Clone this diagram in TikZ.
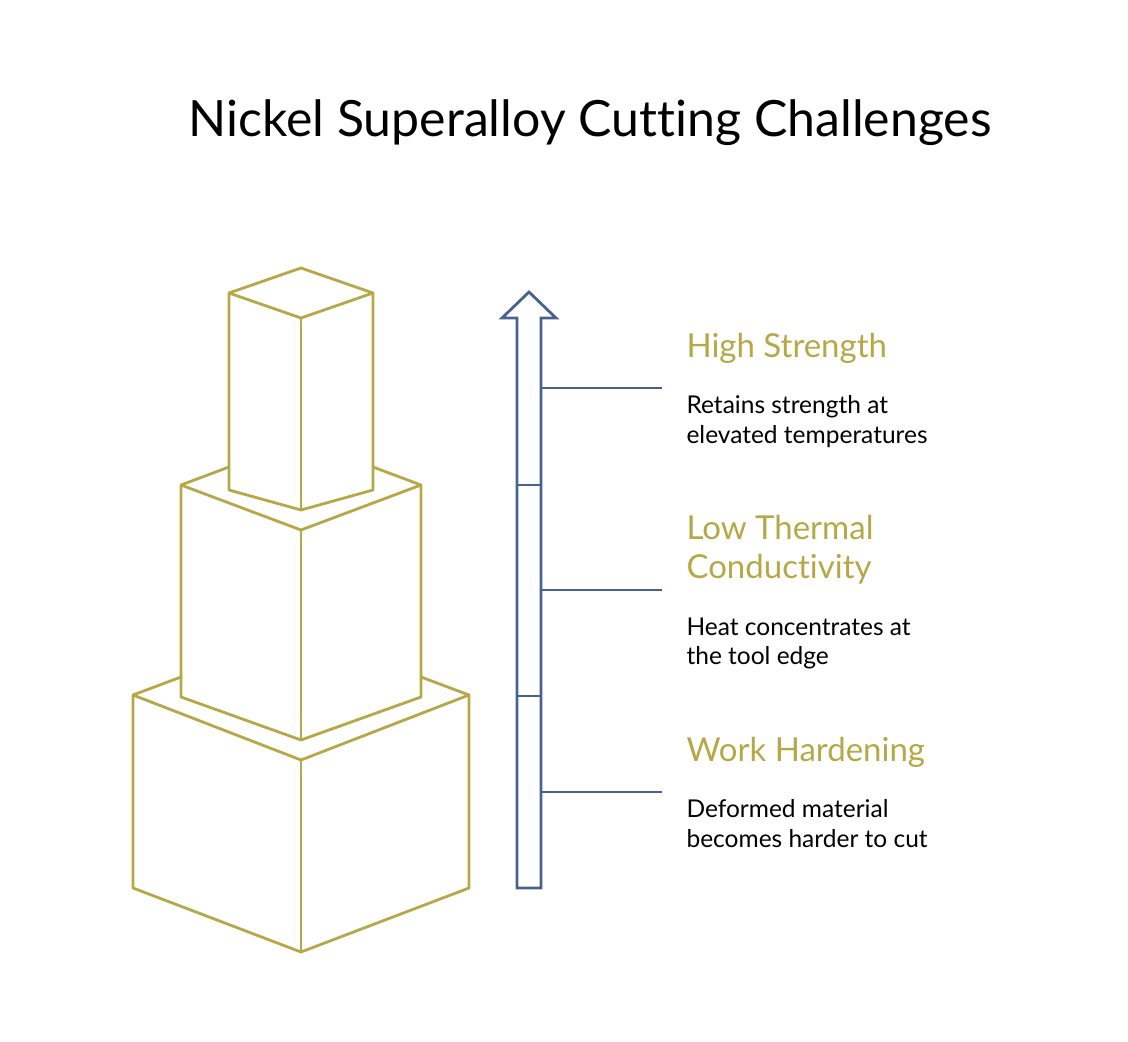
\documentclass[tikz,border=0pt]{standalone}
\usepackage{fontspec}
\setmainfont{Lato}[RawFeature={-liga}]
\begin{document}
\begin{tikzpicture}[x=1pt,y=-1pt,
  box/.style={draw=gold,line width=2.8pt,line join=round},
  ax/.style={draw=steel,line width=2.8pt,line join=miter},
  head/.style={anchor=west,text=gold,font=\fontsize{33}{39}\selectfont,align=left},
  desc/.style={anchor=north west,font=\fontsize{24.5}{29.5}\selectfont,align=left}]
\definecolor{gold}{RGB}{182,168,70}
\definecolor{steel}{RGB}{72,98,142}
\useasboundingbox (0,0) rectangle (1128,1042);
\node (title) at (590,123) {\fontsize{50}{56}\selectfont Nickel Superalloy Cutting Challenges};
% bottom box
\draw[box] (181,677)--(133,695)--(133,888)--(301,952)--(469,888)--(469,695)--(421,677);
\draw[box] (133,695)--(301,760)--(469,695);
\draw[box] (301,760)--(301,952);
% middle box
\draw[box] (229,467)--(181,485)--(181,697)--(301,740)--(421,697)--(421,485)--(373,467);
\draw[box] (181,485)--(301,530)--(421,485);
\draw[box] (301,530)--(301,740);
% top box
\draw[box] (229,293)--(301,268)--(373,293)--(373,490)--(301,510)--(229,490)--cycle;
\draw[box] (229,293)--(301,318)--(373,293);
\draw[box] (301,318)--(301,510);
% arrow
\draw[ax] (517,888)--(517,318)--(502,318)--(529,292)--(556,318)--(541,318)--(541,888)--cycle;
\draw[ax] (517,485)--(541,485);
\draw[ax] (517,696)--(541,696);
\coordinate (c1) at (541,388); \coordinate (c2) at (541,590); \coordinate (c3) at (541,792);
\node[head] (h1) at (683,348) {High Strength};
\node[head] (h2) at (683,550) {Low Thermal\\Conductivity};
\node[head] (h3) at (683,752) {Work Hardening};
\draw[ax] (c1)--(662,388);
\draw[ax] (c2)--(662,590);
\draw[ax] (c3)--(662,792);
\node[desc] (d1) at (683,392) {Retains strength at\\elevated temperatures};
\node[desc] (d2) at (683,614) {Heat concentrates at\\the tool edge};
\node[desc] (d3) at (683,796) {Deformed material\\becomes harder to cut};
\end{tikzpicture}
\end{document}
